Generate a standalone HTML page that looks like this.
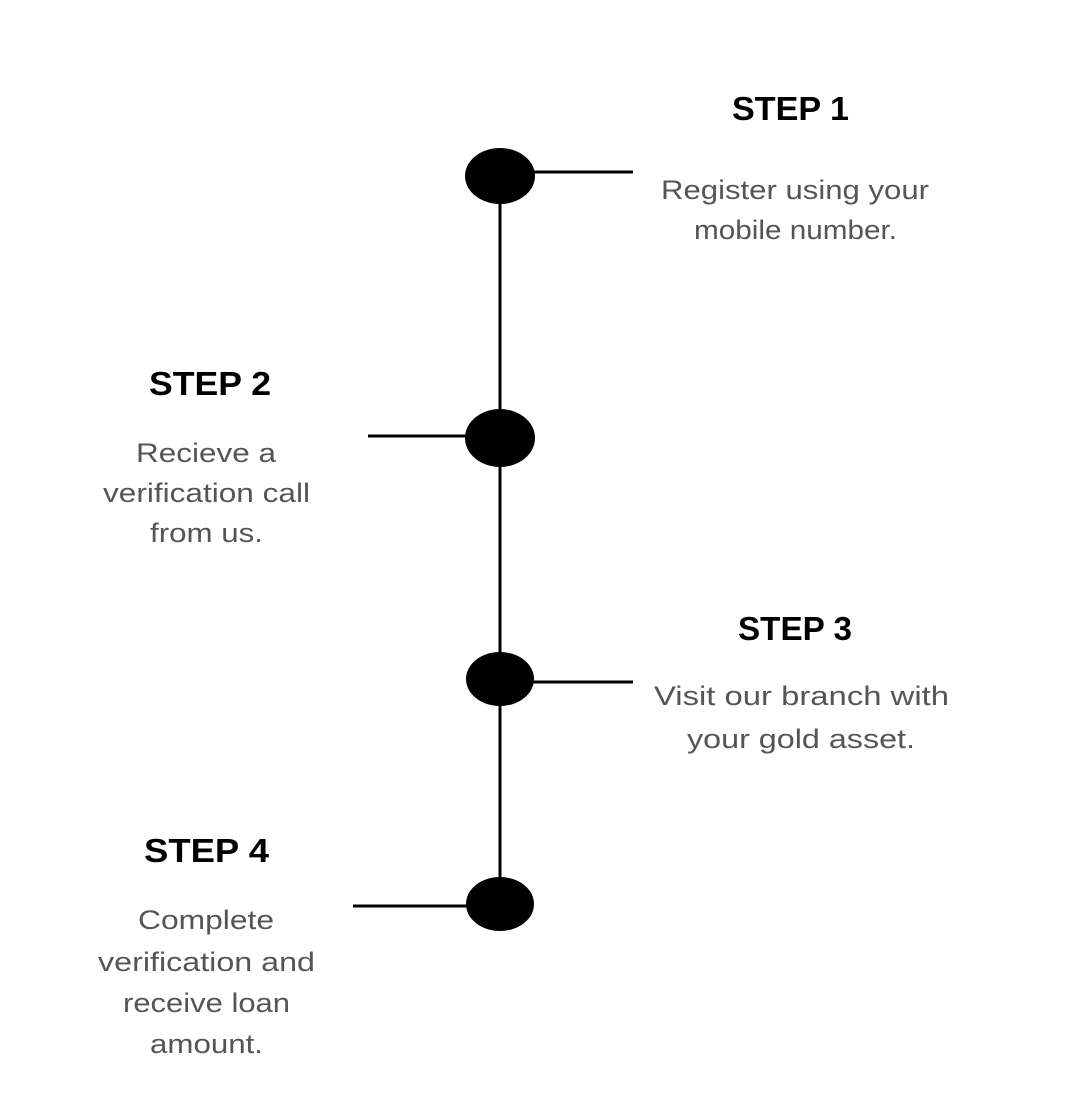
<!DOCTYPE html>
<html><head><meta charset="utf-8"><style>
html,body{margin:0;padding:0;background:#fff;}
svg{display:block;}
.h{font-family:"Liberation Sans",sans-serif;font-weight:bold;font-size:33px;fill:#000;}
.b{font-family:"Liberation Sans",sans-serif;font-size:27px;fill:#555;}
</style></head><body>
<svg width="1076" height="1108" viewBox="0 0 1076 1108" xmlns="http://www.w3.org/2000/svg">
<rect width="1076" height="1108" fill="#fff"/>
<line x1="500" y1="176" x2="500" y2="905" stroke="#000" stroke-width="3"/>
<line x1="530" y1="172" x2="633" y2="172" stroke="#000" stroke-width="3"/>
<line x1="368" y1="436" x2="470" y2="436" stroke="#000" stroke-width="3"/>
<line x1="530" y1="682" x2="633" y2="682" stroke="#000" stroke-width="3"/>
<line x1="353" y1="906" x2="470" y2="906" stroke="#000" stroke-width="3"/>
<ellipse cx="500" cy="176" rx="35" ry="28" fill="#000"/>
<ellipse cx="500" cy="438" rx="35" ry="29" fill="#000"/>
<ellipse cx="500" cy="679" rx="34" ry="27" fill="#000"/>
<ellipse cx="500" cy="904" rx="34" ry="27" fill="#000"/>
<g lengthAdjust="spacingAndGlyphs">
<text class="h" x="732" y="120" textLength="117" lengthAdjust="spacingAndGlyphs">STEP 1</text>
<text class="b" x="661" y="199" textLength="268" lengthAdjust="spacingAndGlyphs">Register  using your</text>
<text class="b" x="694" y="239" textLength="203" lengthAdjust="spacingAndGlyphs">mobile number.</text>
<text class="h" x="149" y="395" textLength="122" lengthAdjust="spacingAndGlyphs">STEP 2</text>
<text class="b" x="136" y="462" textLength="140" lengthAdjust="spacingAndGlyphs">Recieve  a</text>
<text class="b" x="103" y="502" textLength="207" lengthAdjust="spacingAndGlyphs">verification call</text>
<text class="b" x="150" y="542" textLength="113" lengthAdjust="spacingAndGlyphs">from us.</text>
<text class="h" x="738" y="640" textLength="114" lengthAdjust="spacingAndGlyphs">STEP 3</text>
<text class="b" x="654" y="705" textLength="295" lengthAdjust="spacingAndGlyphs">Visit our branch with</text>
<text class="b" x="687" y="748" textLength="228" lengthAdjust="spacingAndGlyphs">your gold asset.</text>
<text class="h" x="144" y="862" textLength="125" lengthAdjust="spacingAndGlyphs">STEP 4</text>
<text class="b" x="138" y="929" textLength="136" lengthAdjust="spacingAndGlyphs">Complete</text>
<text class="b" x="98" y="971" textLength="217" lengthAdjust="spacingAndGlyphs">verification and</text>
<text class="b" x="123" y="1012" textLength="167" lengthAdjust="spacingAndGlyphs">receive loan</text>
<text class="b" x="150" y="1053" textLength="113" lengthAdjust="spacingAndGlyphs">amount.</text>
</g>
</svg>
</body></html>
